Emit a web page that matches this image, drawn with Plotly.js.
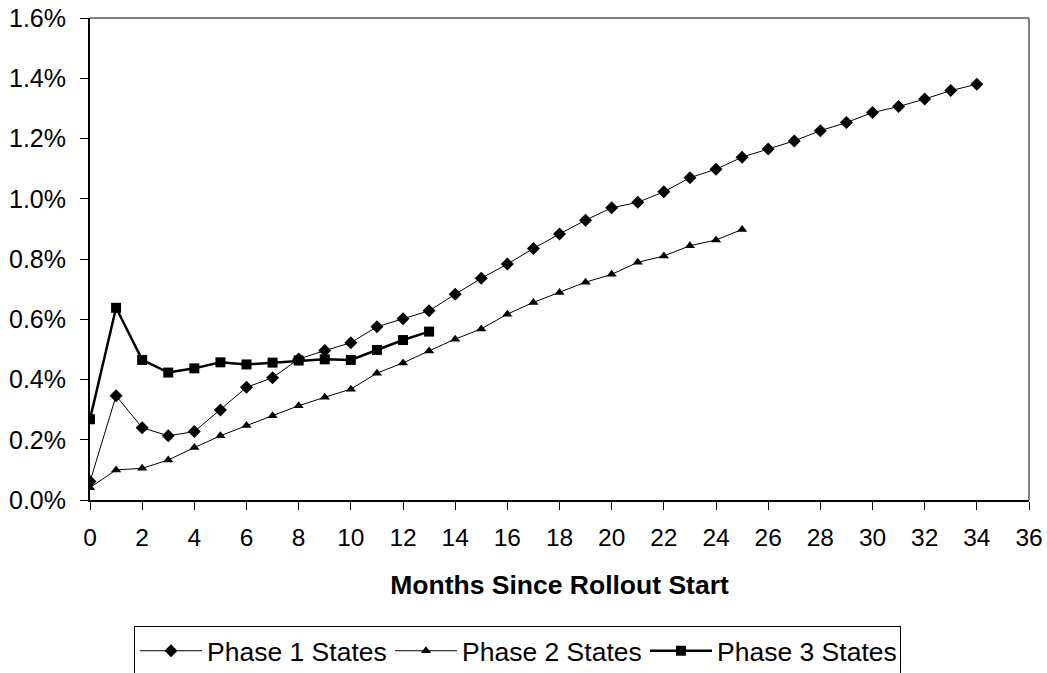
<!DOCTYPE html>
<html>
<head>
<meta charset="utf-8">
<script src="https://cdn.plot.ly/plotly-3.0.1.min.js"></script>
<style>
  html, body { margin: 0; padding: 0; background: #fff; }
  #chart { width: 1047px; height: 673px; }
</style>
</head>
<body>
<div id="chart"></div>
<script>
// Months since rollout start
var months = [0,1,2,3,4,5,6,7,8,9,10,11,12,13,14,15,16,17,18,19,20,21,22,23,24,25,26,27,28,29,30,31,32,33,34];

// Values in percent
var phase1 = [0.061,0.346,0.240,0.213,0.227,0.299,0.374,0.406,0.468,0.496,0.522,0.575,0.602,0.628,0.683,0.736,0.783,0.835,0.883,0.929,0.970,0.988,1.023,1.070,1.098,1.138,1.165,1.192,1.226,1.253,1.286,1.306,1.331,1.359,1.380];
var phase2 = [0.041,0.100,0.105,0.133,0.174,0.213,0.247,0.280,0.313,0.341,0.368,0.421,0.455,0.495,0.534,0.568,0.617,0.656,0.689,0.723,0.749,0.789,0.810,0.844,0.863,0.898];
var phase3 = [0.268,0.638,0.465,0.423,0.437,0.457,0.450,0.456,0.463,0.467,0.465,0.498,0.531,0.559];

var seriesNames = ["Phase 1 States", "Phase 2 States", "Phase 3 States"];
var xTickVals = [0,2,4,6,8,10,12,14,16,18,20,22,24,26,28,30,32,34,36];
var yTickVals = [0,0.2,0.4,0.6,0.8,1.0,1.2,1.4,1.6];

var FONT = "Liberation Sans, Arial, sans-serif";

var traces = [
  {
    x: months.slice(0, phase1.length), y: phase1, name: seriesNames[0],
    type: "scatter", mode: "lines+markers",
    line: { color: "#000", width: 1 },
    marker: { symbol: "diamond", size: 10, color: "#000" }
  },
  {
    x: months.slice(0, phase2.length), y: phase2, name: seriesNames[1],
    type: "scatter", mode: "lines+markers",
    line: { color: "#000", width: 1 },
    marker: { symbol: "triangle-up", size: 9, color: "#000" }
  },
  {
    x: months.slice(0, phase3.length), y: phase3, name: seriesNames[2],
    type: "scatter", mode: "lines+markers",
    line: { color: "#000", width: 2.5 },
    marker: { symbol: "square", size: 10, color: "#000" }
  }
];

var layout = {
  width: 1047, height: 673,
  margin: { l: 90, r: 18, t: 18, b: 173, pad: 0 },
  paper_bgcolor: "#fff", plot_bgcolor: "#fff",
  font: { family: FONT, size: 25, color: "#000" },
  showlegend: true,
  xaxis: {
    range: [0, 36], tickvals: xTickVals, ticktext: xTickVals.map(String),
    showgrid: false, zeroline: false,
    showline: true, linecolor: "#000", linewidth: 2,
    ticks: "outside", ticklen: 8, tickwidth: 1, tickcolor: "#000",
    ticklabelstandoff: 7,
    tickfont: { family: FONT, size: 24.5, color: "#000" },
    title: { text: "<b>Months Since Rollout Start</b>", font: { family: FONT, size: 26.5, color: "#000" }, standoff: 25 },
    fixedrange: true
  },
  yaxis: {
    range: [0, 1.6], tickvals: yTickVals,
    ticktext: yTickVals.map(function (v) { return v.toFixed(1) + "%"; }),
    showgrid: false, zeroline: false,
    showline: true, linecolor: "#000", linewidth: 2,
    ticks: "outside", ticklen: 8, tickwidth: 1, tickcolor: "#000",
    ticklabelstandoff: 9,
    tickfont: { family: FONT, size: 25, color: "#000" },
    fixedrange: true
  },
  shapes: [
    { type: "line", xref: "paper", yref: "paper", x0: 0, x1: 1, y0: 1, y1: 1, line: { color: "#808080", width: 2 }, layer: "below" },
    { type: "line", xref: "paper", yref: "paper", x0: 1, x1: 1, y0: 0, y1: 1, line: { color: "#808080", width: 2 }, layer: "below" }
  ],
  legend: {
    orientation: "h",
    xref: "container", yref: "container",
    x: 134 / 1047, xanchor: "left",
    y: 1 - 626 / 673, yanchor: "top",
    bordercolor: "#000", borderwidth: 1,
    bgcolor: "#fff",
    font: { family: FONT, size: 26.5, color: "#000" },
    itemwidth: 62,
    entrywidth: 178, entrywidthmode: "pixels",
    traceorder: "normal"
  }
};

Plotly.newPlot("chart", traces, layout, { displayModeBar: false, staticPlot: true });
</script>
</body>
</html>
